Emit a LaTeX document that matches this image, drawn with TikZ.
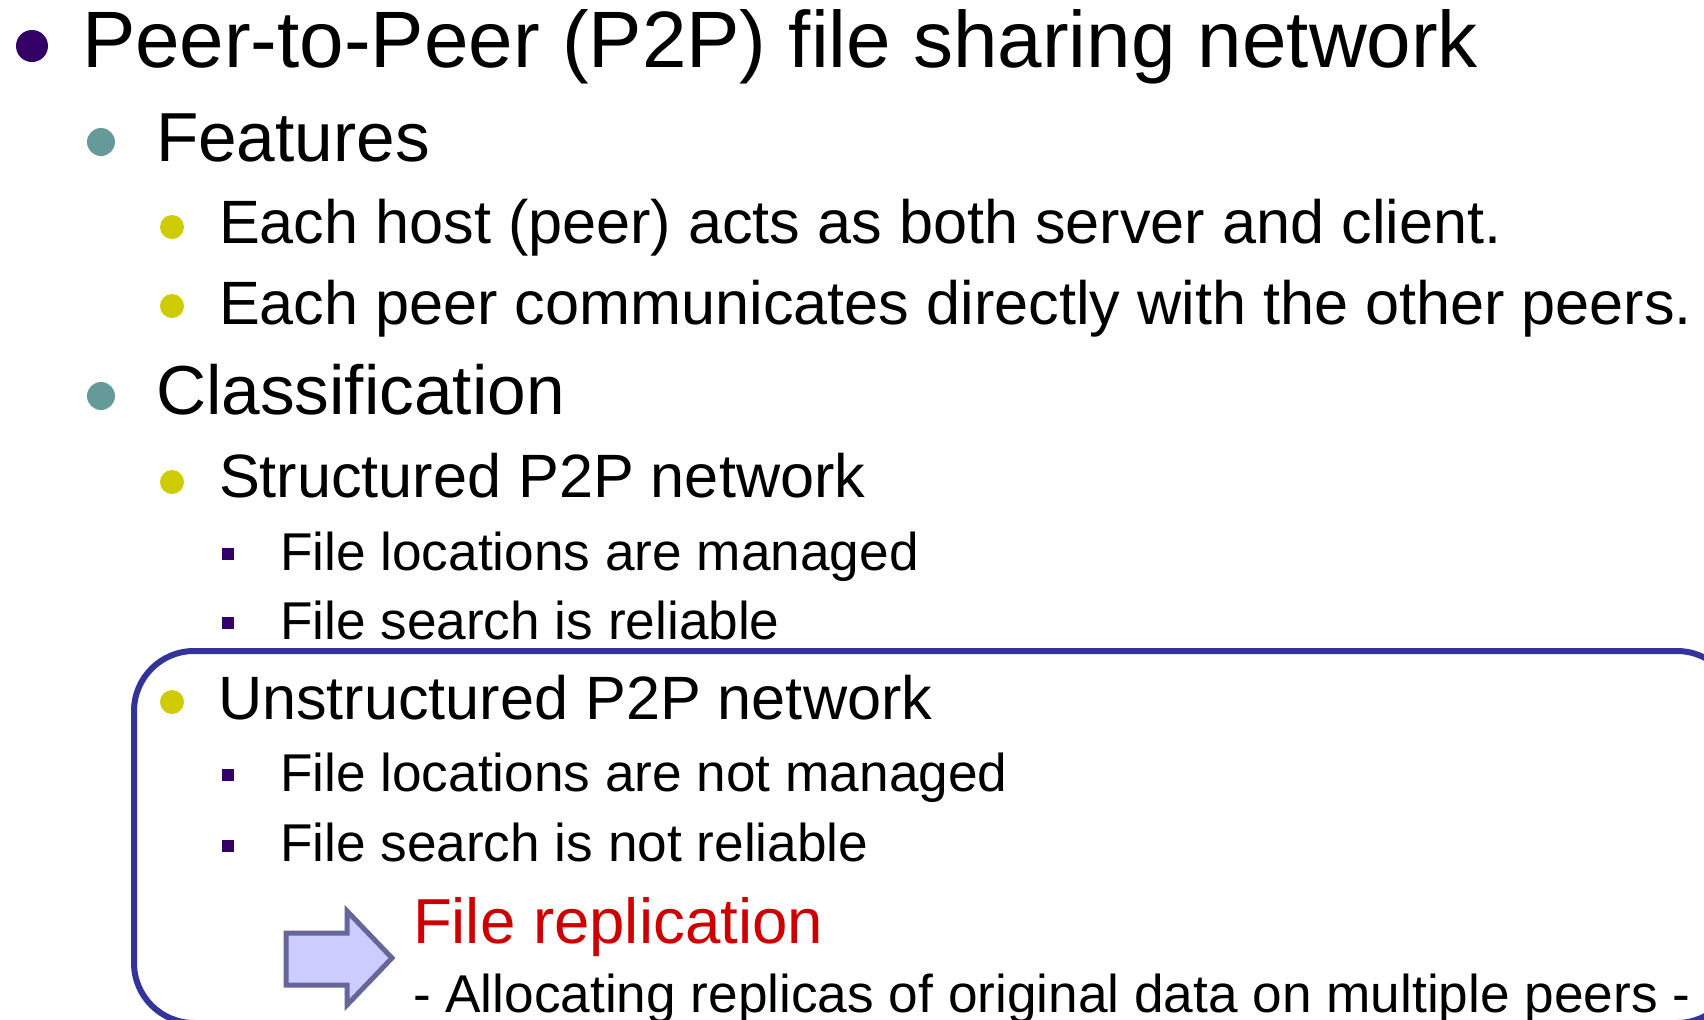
\documentclass[tikz,border=0pt]{standalone}
\usepackage{fontspec}
\setmainfont{Liberation Sans}
\usepackage{tikz}
\usetikzlibrary{positioning}

\definecolor{bulpurple}{HTML}{330066}
\definecolor{bulteal}{HTML}{669999}
\definecolor{bulyellow}{HTML}{CCCC00}
\definecolor{boxblue}{HTML}{333399}
\definecolor{arrowfill}{HTML}{CCCCFF}
\definecolor{arrowline}{HTML}{666699}
\definecolor{repred}{HTML}{CC0000}

\tikzset{
  txt/.style={anchor=base west, inner sep=0, outer sep=0},
  lvlone/.style={txt, font=\fontsize{40}{44}\selectfont},
  lvltwo/.style={txt, font=\fontsize{34.7}{38}\selectfont},
  lvlthree/.style={txt, font=\fontsize{30.6}{34}\selectfont},
  lvlfour/.style={txt, font=\fontsize{26.6}{30}\selectfont},
  dotone/.style={circle, fill=bulpurple, minimum size=16pt, inner sep=0},
  dottwo/.style={circle, fill=bulteal, minimum size=14pt, inner sep=0},
  dotthree/.style={circle, fill=bulyellow, minimum size=12pt, inner sep=0},
  dotfour/.style={rectangle, fill=bulpurple, minimum size=6pt, inner sep=0},
}

\begin{document}
\begin{tikzpicture}[x=0.5pt, y=-0.5pt]
    \clip (0,0) rectangle (1704,1019);

    % Bullets
    \node[dotone] (b1) at (32,46) {};
    \node[dottwo] (b2) at (101,142) {};
    \node[dotthree] (b3) at (172,227) {};
    \node[dotthree] (b4) at (172,306) {};
    \node[dottwo] (b5) at (101,396) {};
    \node[dotthree] (b6) at (172,482) {};
    \node[dotfour] (b7) at (228,554) {};
    \node[dotfour] (b8) at (228,623) {};
    \node[dotthree] (b9) at (172,702) {};
    \node[dotfour] (b10) at (228,775) {};
    \node[dotfour] (b11) at (228,846) {};

    % Text lines
    \node[lvlone] (title) at (82,67) {Peer-to-Peer (P2P) file sharing network};
    \node[lvltwo] (features) at (156,161) {Features};
    \node[lvlthree] (host) at (219,243) {Each host (peer) acts as both server and client.};
    \node[lvlthree] (peer) at (219,324) {Each peer communicates directly with the other peers.};
    \node[lvltwo] (classif) at (156,414) {Classification};
    \node[lvlthree] (struct) at (219,497) {Structured P2P network};
    \node[lvlfour] (smanaged) at (280,570) {File locations are managed};
    \node[lvlfour] (sreliable) at (280,639) {File search is reliable};
    \node[lvlthree] (unstruct) at (218,719) {Unstructured P2P network};
    \node[lvlfour] (umanaged) at (280,791) {File locations are not managed};
    \node[lvlfour] (ureliable) at (280,861) {File search is not reliable};

    % Highlight box
    \draw[boxblue, line width=3pt, rounded corners=30pt] (134,651) rectangle (1737,1023);

    % Block arrow
    \draw[arrowline, fill=arrowfill, line width=2.5pt, line join=miter]
        (286,933) -- (347,933) -- (347,911) -- (392,958) -- (347,1005) -- (347,985) -- (286,985) -- cycle;

    % Replication
    \node[lvlthree, text=repred, font=\fontsize{31.8}{34}\selectfont] (replic) at (413,943) {File replication};
    \node[lvlfour] (alloc) at (413,1012) {- Allocating replicas of original data on multiple peers -};
\end{tikzpicture}
\end{document}
